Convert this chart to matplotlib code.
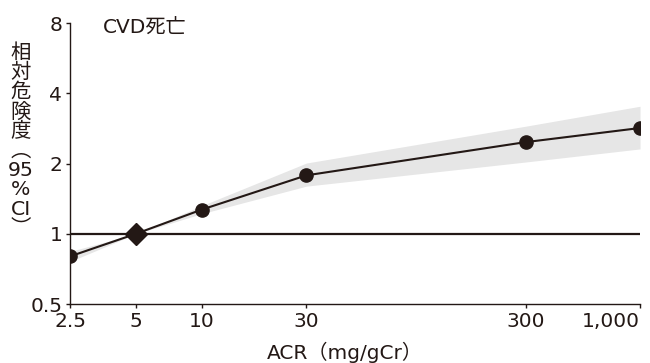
import numpy as np
import matplotlib
matplotlib.use('Agg')
import matplotlib.pyplot as plt

plt.rcParams['font.family'] = ['DejaVu Sans', 'Noto Sans CJK JP']

# data
acr = [2.5, 5, 10, 30, 300, 1000]
hr = [0.80, 1.0, 1.27, 1.78, 2.47, 2.84]
ci_low = [0.76, 1.0, 1.22, 1.60, 2.03, 2.31]
ci_high = [0.84, 1.0, 1.32, 2.01, 2.89, 3.52]
ref_index = 1  # 5 mg/gCr reference (diamond)

x_labels = ['2.5', '5', '10', '30', '300', '1,000']
y_ticks = [0.5, 1, 2, 4, 8]
y_labels = ['0.5', '1', '2', '4', '8']

dark = '#231815'

fig = plt.figure(figsize=(6.5, 3.63), dpi=100)
ax = fig.add_axes([0.1077, 0.1625, 0.877, 0.774])

ax.fill_between(acr, ci_low, ci_high, color='#e6e6e6', linewidth=0, zorder=1)
ax.axhline(1, color=dark, linewidth=1.6, zorder=2)
ax.plot(acr, hr, color=dark, linewidth=1.5, zorder=3)

others = [i for i in range(len(acr)) if i != ref_index]
ax.plot([acr[i] for i in others], [hr[i] for i in others], 'o',
        color=dark, markersize=9.5, zorder=4)
ax.plot(acr[ref_index], hr[ref_index], 'D', color=dark, markersize=11, zorder=4)

ax.set_xscale('log')
ax.set_yscale('log')
ax.set_xlim(2.5, 1000)
ax.set_ylim(0.5, 8)
ax.set_xticks(acr)
ax.set_xticklabels(x_labels)
ax.set_yticks(y_ticks)
ax.set_yticklabels(y_labels)
ax.minorticks_off()
ax.get_xticklabels()[-1].set_ha('right')

for s in ['top', 'right']:
    ax.spines[s].set_visible(False)
for s in ['left', 'bottom']:
    ax.spines[s].set_color(dark)
    ax.spines[s].set_linewidth(1.0)
ax.tick_params(axis='both', colors=dark, labelsize=14.5, length=3, width=1.0, pad=2.5)

ax.text(0.058, 1.015, 'CVD死亡', transform=ax.transAxes, fontsize=14.5,
        color=dark, ha='left', va='top')

fig.text(345 / 650, 11 / 363, 'ACR（mg/gCr）', fontsize=14.5, color=dark,
         ha='center', va='center')

fig.text(21 / 650, 1 - 141 / 363, '相\n対\n危\n険\n度\n︵\n95\n%\nCI\n︶', fontsize=14.7,
         color=dark, ha='center', va='center', linespacing=1.03)

fig.savefig('out.png', dpi=100)
